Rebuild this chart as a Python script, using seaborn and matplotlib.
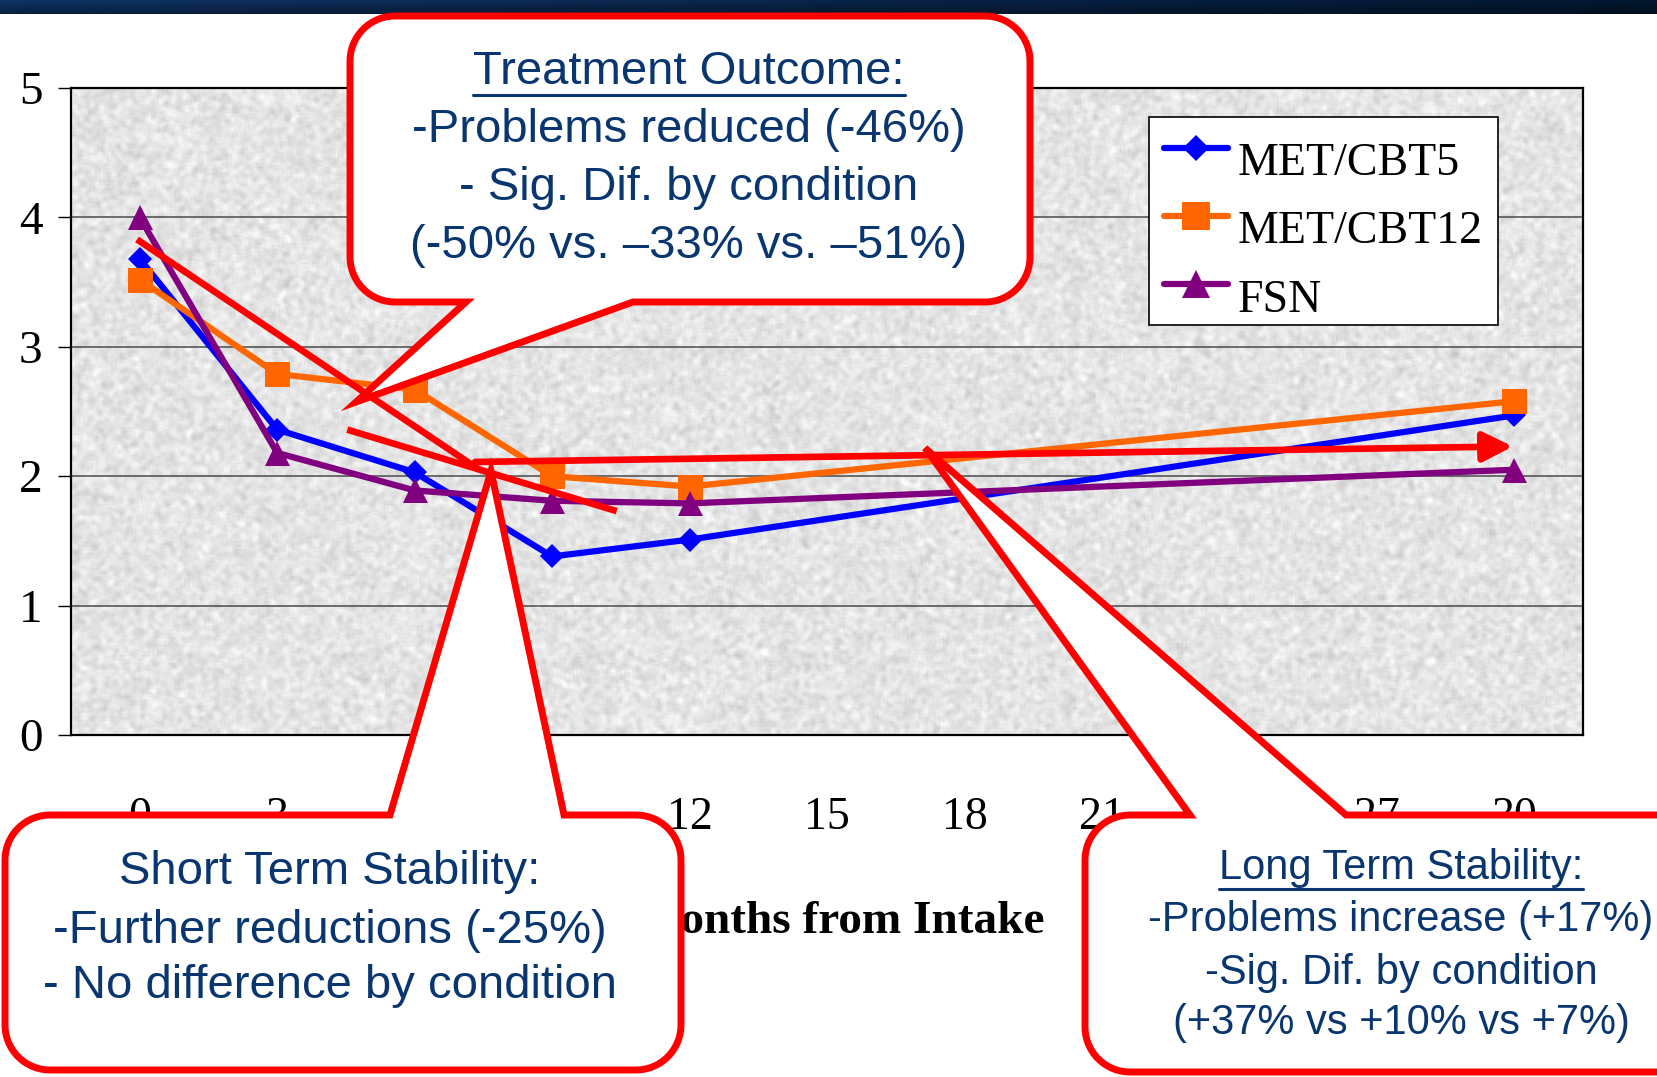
import numpy as np
import pandas as pd
import matplotlib
matplotlib.use("Agg")
import matplotlib.pyplot as plt
import seaborn as sns
from matplotlib.patches import Polygon
from matplotlib.lines import Line2D
from matplotlib.transforms import Affine2D

# ---------------- data ----------------
months = [0, 3, 6, 9, 12, 15, 18, 21, 24, 27, 30]
assessed_months = [0, 3, 6, 9, 12, 30]
series_names = ["MET/CBT5", "MET/CBT12", "FSN"]
met_cbt5 = [3.68, 2.36, 2.03, 1.38, 1.51, 2.47]
met_cbt12 = [3.52, 2.79, 2.67, 2.00, 1.92, 2.58]
fsn = [4.00, 2.18, 1.89, 1.81, 1.79, 2.05]
y_ticks = [0, 1, 2, 3, 4, 5]
x_label = "Months from Intake"

# annotation strokes drawn over the chart (category position, score)
trend_stroke_a = [(-0.02, 3.83), (2.47, 2.05)]
trend_stroke_b = [(1.51, 2.36), (3.47, 1.73)]
plateau_arrow = [(2.44, 2.11), (9.99, 2.23)]

outcome_lines = ["Treatment Outcome:", "-Problems reduced (-46%)",
                 "- Sig. Dif. by condition", "(-50% vs. \u201333% vs. \u201351%)"]
short_term_lines = ["Short Term Stability:", "-Further reductions (-25%)",
                    "- No difference by condition"]
long_term_lines = ["Long Term Stability:", "-Problems increase (+17%)",
                   "-Sig. Dif. by condition", "(+37% vs +10% vs +7%)"]

# ---------------- table ----------------
values = {"MET/CBT5": met_cbt5, "MET/CBT12": met_cbt12, "FSN": fsn}
rows = []
for name in series_names:
    for m, v in zip(assessed_months, values[name]):
        rows.append({"series": name, "pos": months.index(m), "score": v})
df = pd.DataFrame(rows)

# ---------------- figure ----------------
W, H = 1658, 1077
sns.set_style("white")
plt.rcParams["font.family"] = ["Liberation Serif", "DejaVu Serif"]
plt.rcParams["text.color"] = "black"
plt.rcParams["axes.labelcolor"] = "black"
plt.rcParams["xtick.color"] = "black"
plt.rcParams["ytick.color"] = "black"

fig = plt.figure(figsize=(W / 100, H / 100), dpi=100, facecolor="white")


def fx(x):
    return x / W


def fy(y):
    return 1 - y / H


# dark title band across the top
band = fig.add_axes([0, fy(14), 1, 14 / H])
gx = np.linspace(0, 1, 400)[None, :, None]
gy = np.linspace(0, 1, 8)[:, None, None]
c_left = np.array([0.06, 0.20, 0.39])
c_right = np.array([0.01, 0.09, 0.19])
band_img = (c_left * (1 - gx) + c_right * gx) * (1.0 - 0.35 * gy)
band.imshow(band_img, aspect="auto", extent=(0, 1, 0, 1))
band.set_axis_off()

ax = fig.add_axes([fx(71), fy(735), 1512 / W, 647 / H])

# speckled grey plot-area fill
tex_rng = np.random.default_rng(11)
paper_texture = tex_rng.normal(0, 1, (330, 760))
k = np.ones(3) / 3
paper_texture = np.apply_along_axis(lambda r: np.convolve(r, k, "same"), 1, paper_texture)
paper_texture = np.apply_along_axis(lambda c: np.convolve(c, k, "same"), 0, paper_texture)
paper_texture = 0.895 + 0.03 * paper_texture / paper_texture.std()
ax.imshow(paper_texture, cmap="gray", vmin=0, vmax=1, extent=(-0.5, 10.5, 0, 5),
          aspect="auto", zorder=0, interpolation="bilinear")

styles = {
    "MET/CBT5": dict(color="#0000ff", marker="D", markersize=12),
    "MET/CBT12": dict(color="#ff6600", marker="s", markersize=18),
    "FSN": dict(color="#800080", marker="^", markersize=18),
}
for name in series_names:
    d = df[df["series"] == name]
    sns.lineplot(data=d, x="pos", y="score", ax=ax, lw=4.5, label=name,
                 markeredgewidth=0, zorder=3, **styles[name])

ax.set_xlim(-0.5, 10.5)
ax.set_ylim(0, 5)
ax.set_axisbelow(True)
ax.grid(False)
ax.yaxis.grid(True, color="#4a4a4a", lw=1.1)

ax.set_xticks(range(len(months)))
ax.set_xticklabels([str(m) for m in months])
ax.set_xticks(np.arange(-0.5, len(months), 1.0), minor=True)
ax.tick_params(axis="x", which="major", length=0, pad=44, labelsize=33, labelcolor="black")
ax.tick_params(axis="x", which="minor", length=10, width=1, color="black", direction="out")
ax.set_yticks(y_ticks)
ax.set_yticklabels([str(v) for v in y_ticks])
ax.tick_params(axis="y", which="major", length=9.5, width=1, color="black",
               direction="out", pad=11, labelsize=34, left=True, labelcolor="black")
for s in ax.spines.values():
    s.set_color("black")
    s.set_linewidth(1.6)
    s.set_visible(True)

ax.set_ylabel("")
ax.set_xlabel(x_label, fontsize=34, fontweight="bold", color="black")
ax.xaxis.set_label_coords((840 - 71) / 1512, (735 - 922) / 647)
ax.xaxis.label.set_va("center")

leg = ax.legend(loc="upper left", bbox_to_anchor=(fx(1149), fy(117)),
                bbox_transform=fig.transFigure, frameon=True, fancybox=False,
                edgecolor="black", framealpha=1, facecolor="white",
                prop=dict(family="Liberation Serif", size=33),
                handlelength=1.4, handletextpad=0.22, labelspacing=0.56,
                borderpad=0.32, borderaxespad=0, markerscale=1.1)
leg.get_frame().set_linewidth(1.2)
leg.set_zorder(8)
for t in leg.get_texts():
    t.set_color("black")
    # labels sit a little below their key lines
    t.set_transform(t.get_transform() + Affine2D().translate(0, -11))

# red emphasis strokes
for (x0, y0), (x1, y1) in [trend_stroke_a, trend_stroke_b]:
    ax.plot([x0, x1], [y0, y1], color="#ff0000", lw=4.8, solid_capstyle="butt", zorder=6)
ax.annotate("", xy=plateau_arrow[1], xytext=plateau_arrow[0],
            arrowprops=dict(arrowstyle="-|>,head_length=0.9,head_width=0.45",
                            color="#ff0000", lw=4.8, mutation_scale=20,
                            shrinkA=0, shrinkB=0), zorder=6)


# ---------------- callouts ----------------
def callout_vertices(left, top, right, bottom, r, side, base, tip, n=16):
    pts = []

    def arc(cx, cy, a0, a1):
        for a in np.linspace(np.radians(a0), np.radians(a1), n):
            pts.append((cx + r * np.cos(a), cy + r * np.sin(a)))

    pts.append((left + r, top))
    if side == "top":
        pts.extend([(base[0], top), tip, (base[1], top)])
    arc(right - r, top + r, -90, 0)
    arc(right - r, bottom - r, 0, 90)
    if side == "bottom":
        pts.extend([(base[1], bottom), tip, (base[0], bottom)])
    arc(left + r, bottom - r, 90, 180)
    arc(left + r, top + r, 180, 270)
    return [(fx(x), fy(y)) for x, y in pts]


callouts = [
    dict(box=(350, 16, 1030, 302), side="bottom", base=(466, 633), tip=(356, 402),
         lines=outcome_lines, cx=689, ys=[72, 130, 188, 246], size=34, underline=True),
    dict(box=(5, 815, 681, 1070), side="top", base=(390, 564), tip=(491, 471),
         lines=short_term_lines, cx=330, ys=[872, 931, 986], size=34, underline=False),
    dict(box=(1085, 815, 1720, 1072), side="top", base=(1190, 1346), tip=(925, 448),
         lines=long_term_lines, cx=1401, ys=[868, 920, 973, 1023], size=30, underline=True),
]

text_color = "#0a3670"
heading_texts = []
for c in callouts:
    l, t, r_, b = c["box"]
    poly = Polygon(callout_vertices(l, t, r_, b, 45, c["side"], c["base"], c["tip"]),
                   closed=True, transform=fig.transFigure, facecolor="white",
                   edgecolor="#ff0000", lw=5, joinstyle="miter", zorder=10)
    fig.add_artist(poly)
    for i, (line, y) in enumerate(zip(c["lines"], c["ys"])):
        txt = fig.text(fx(c["cx"]), fy(y), line, ha="center", va="center",
                       fontsize=c["size"], color=text_color,
                       family=["Liberation Sans", "DejaVu Sans"], zorder=11)
        if i == 0 and c["underline"]:
            heading_texts.append((txt, y, c["size"]))

fig.canvas.draw()
renderer = fig.canvas.get_renderer()
for txt, y, size in heading_texts:
    bb = txt.get_window_extent(renderer)
    uy = y + 0.68 * size * 100 / 72 * 0.5 + 7
    fig.add_artist(Line2D([bb.x0 / W, bb.x1 / W], [fy(uy), fy(uy)],
                          transform=fig.transFigure, color=text_color, lw=2.2, zorder=11))

fig.savefig("out.png", dpi=100, facecolor="white")
